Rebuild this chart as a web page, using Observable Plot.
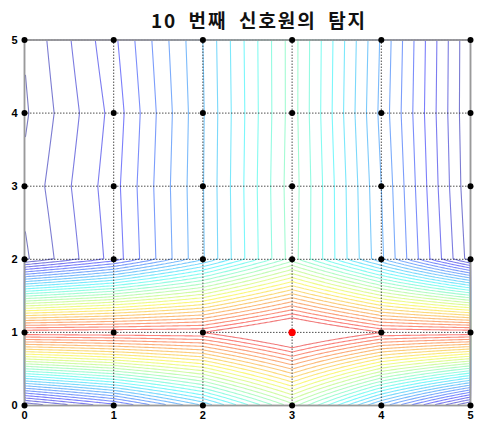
<!DOCTYPE html>
<html>
<head>
<meta charset="utf-8">
<script src="https://cdn.jsdelivr.net/npm/d3@7"></script>
<script src="https://cdn.jsdelivr.net/npm/@observablehq/plot@0.6"></script>
<style>
  body { margin: 0; background: #fff; }
  #title {
    width: 480px; height: 34px; box-sizing: border-box;
    padding: 7px 0 0 38px; line-height: 26px; text-align: center;
    font-family: "Noto Sans CJK KR", sans-serif; font-weight: bold; font-size: 19px; color: #111;
    word-spacing: 5px; letter-spacing: 2px;
  }
</style>
</head>
<body>
<div id="title">10 번째 신호원의 탐지</div>
<div id="chart"></div>
<script>
// Search grid coordinates (sensor positions)
const gridX = [0, 1, 2, 3, 4, 5];
const gridY = [0, 1, 2, 3, 4, 5];

// Detection statistic sampled at each grid node, one row per y (y = 0 … 5)
const statRows = [
  [0.9, 4.5, 10.0, 17.5, 8.5, 0.5],
  [30.9, 31.0, 31.05, 34.6, 31.05, 30.9],
  [0.8, 4.4, 9.9, 16.5, 9.2, 1.5],
  [1.24, 4.6, 9.95, 16.6, 9.0, 1.15],
  [0.83, 4.35, 9.9, 16.5, 8.7, 1.05],
  [1.08, 4.76, 10.0, 16.5, 8.86, 1.06]
];

// Contour levels
const levels = d3.range(1, 32);

// Estimated source location
const sourceX = [3];
const sourceY = [1];

// Bilinear interpolation of the node values
function stat(x, y) {
  const i = Math.max(0, Math.min(gridX.length - 2, Math.floor(x)));
  const j = Math.max(0, Math.min(gridY.length - 2, Math.floor(y)));
  const u = x - gridX[i], v = y - gridY[j];
  const z00 = statRows[j][i], z10 = statRows[j][i + 1];
  const z01 = statRows[j + 1][i], z11 = statRows[j + 1][i + 1];
  return z00 * (1 - u) * (1 - v) + z10 * u * (1 - v) + z01 * (1 - u) * v + z11 * u * v;
}

// Light "jet" colour map
function jet(t) {
  const c = (k) => Math.max(0, Math.min(1, 1.5 - Math.abs(4 * t - k)));
  const w = 0.5;
  const f = (k) => Math.round(255 * (c(k) * (1 - w) + w * 0.97));
  return `rgb(${f(3)},${f(2)},${f(1)})`;
}

const allValues = statRows.flat();
const nodes = gridY.flatMap((y) => gridX.map((x) => ({x, y})));

const chart = Plot.plot({
  width: 480,
  height: 391,
  marginTop: 5.5,
  marginBottom: 20,
  marginLeft: 24,
  marginRight: 10,
  style: {fontFamily: "'Liberation Sans', Arial, sans-serif"},
  x: {domain: [0, 5]},
  y: {domain: [0, 5]},
  color: {type: "linear", domain: d3.extent(allValues), interpolate: jet},
  marks: [
    Plot.contour({
      value: stat,
      x1: 0, y1: 0, x2: 5, y2: 5,
      thresholds: levels,
      fill: "none",
      stroke: "value",
      strokeWidth: 1.1
    }),
    Plot.gridX(gridX, {stroke: "#222", strokeOpacity: 0.8, strokeDasharray: "1.5,1.5"}),
    Plot.gridY(gridY, {stroke: "#222", strokeOpacity: 0.8, strokeDasharray: "1.5,1.5"}),
    Plot.frame({stroke: "#9a9a9a", strokeWidth: 1.8}),
    Plot.axisX(gridX, {tickSize: 0, tickPadding: 6, fontSize: 11, fontWeight: "bold", tickFormat: "d", label: null}),
    Plot.axisY(gridY, {tickSize: 0, tickPadding: 7, fontSize: 11, fontWeight: "bold", tickFormat: "d", label: null}),
    Plot.dot(nodes, {x: "x", y: "y", r: 3, fill: "black"}),
    Plot.dot(sourceX, {x: (d) => d, y: (d, i) => sourceY[i], r: 3.6, fill: "red"})
  ]
});

document.getElementById("chart").append(chart);
</script>
</body>
</html>
